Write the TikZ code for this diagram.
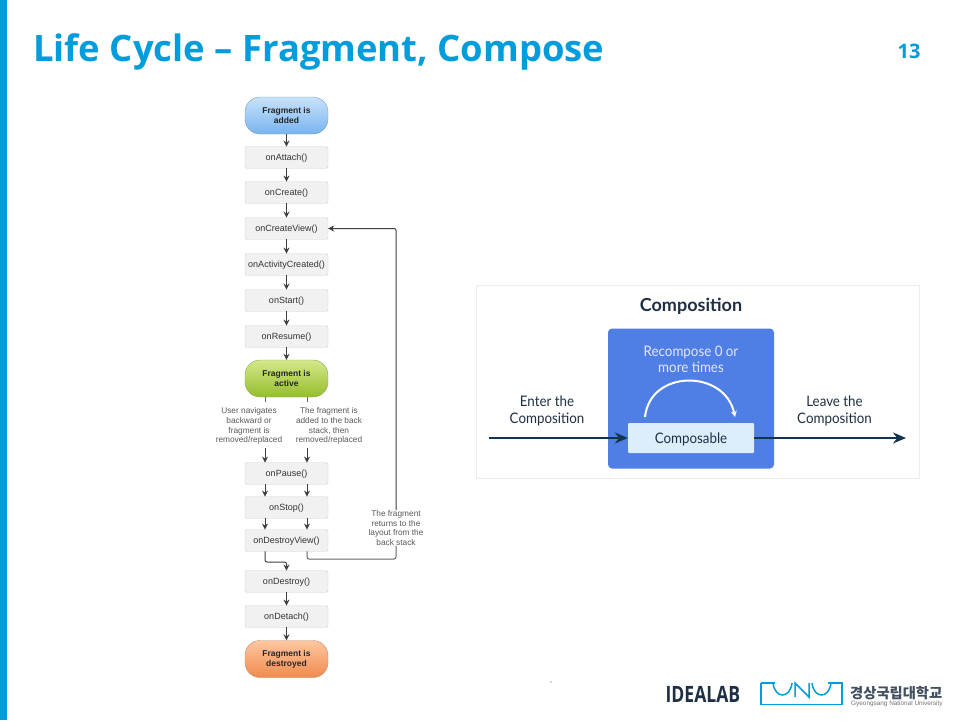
\documentclass[tikz,border=0pt]{standalone}
\usepackage{fontspec}
\setmainfont{Liberation Sans}
\newfontfamily\titlefont{Open Sans}
\newfontfamily\compfont{Lato}
\newfontfamily\krfont{Noto Sans CJK KR}
\usepackage{xcolor}
\usetikzlibrary{arrows.meta,positioning,calc,shapes.misc}
\definecolor{gnublue}{HTML}{009DDC}
\definecolor{boxline}{HTML}{CFCFCF}
\definecolor{boxfill}{HTML}{F1F1F1}
\definecolor{flowline}{HTML}{3F3F3F}
\definecolor{comptext}{HTML}{1F3044}
\definecolor{compblue}{HTML}{4F7FE5}
\definecolor{compbox}{HTML}{DCEDFC}
\definecolor{comparrow}{HTML}{12344F}
\definecolor{addedtop}{HTML}{C8E2FB}
\definecolor{addedbot}{HTML}{78B4EE}
\definecolor{addedline}{HTML}{7FA0C0}
\definecolor{activetop}{HTML}{D5E88A}
\definecolor{activebot}{HTML}{94BE2C}
\definecolor{activeline}{HTML}{8FA85F}
\definecolor{destroytop}{HTML}{FFC7A0}
\definecolor{destroybot}{HTML}{F08A4E}
\definecolor{destroyline}{HTML}{C08A6A}
\tikzset{
	callbox/.style={draw=boxline,fill=boxfill,rounded corners=1.5pt,minimum width=83pt,minimum height=21.5pt,inner sep=0pt,text height=6.6pt,text depth=0pt,font=\fontsize{9}{10}\selectfont,text=black!80},
	statebox/.style={rounded corners=15pt,minimum width=83pt,minimum height=37pt,inner sep=0pt,align=center,font=\fontsize{8.5}{10}\selectfont\bfseries,text=black!85},
	flowarrow/.style={draw=flowline,line width=1pt,-{Stealth[length=6pt,width=6pt]}},
	flowline/.style={draw=flowline!80,line width=1pt,rounded corners=2pt},
	flownote/.style={align=center,font=\fontsize{8.3}{9.8}\selectfont,text=black!65,inner sep=0pt},
	compnote/.style={align=center,font=\compfont\fontsize{14.5}{16.5}\selectfont,text=comptext,inner sep=0pt,xscale=0.92},
	comparrow/.style={draw=comparrow,line width=2pt,-{Stealth[length=13pt,width=11pt]}},
}
\begin{document}
\begin{tikzpicture}[x=1pt,y=-1pt]
	\useasboundingbox (0,0) rectangle (960,720);
	\fill[white] (0,0) rectangle (960,720);
	\fill[gnublue] (0,0) rectangle (7,720);
	% title
	\node[anchor=base west,inner sep=0pt,text=gnublue,font=\titlefont\bfseries\fontsize{36.4}{40}\selectfont] (title) at (33,61) {Life Cycle – Fragment, Compose};
	\node[text=gnublue,inner sep=0pt,font=\titlefont\bfseries\fontsize{20}{24}\selectfont] (pagenum) at (909,51) {13};
	% fragment flow
	\node[statebox,draw=addedline,top color=addedtop,bottom color=addedbot] (added) at (286.5,115.5) {Fragment is\\added};
	\node[callbox] (attach) at (286.5,157.5) {onAttach()};
	\node[callbox] (create) at (286.5,192.5) {onCreate()};
	\node[callbox] (createview) at (286.5,228.5) {onCreateView()};
	\node[callbox] (activitycreated) at (286.5,264.5) {onActivityCreated()};
	\node[callbox] (start) at (286.5,300.5) {onStart()};
	\node[callbox] (resume) at (286.5,336.5) {onResume()};
	\node[statebox,draw=activeline,top color=activetop,bottom color=activebot] (active) at (286.5,378.5) {Fragment is\\active};
	\node[flownote] (backward) at (249,426) {User navigates\\backward or\\fragment is\\removed/replaced};
	\node[flownote] (backstack) at (329,426) {The fragment is\\added to the back\\stack, then\\removed/replaced};
	\node[callbox] (pause) at (286.5,473.5) {onPause()};
	\node[callbox] (stop) at (286.5,507.5) {onStop()};
	\node[callbox] (destroyview) at (286.5,540.5) {onDestroyView()};
	\node[callbox] (destroy) at (286.5,581.5) {onDestroy()};
	\node[callbox] (detach) at (286.5,616.5) {onDetach()};
	\node[statebox,draw=destroyline,top color=destroytop,bottom color=destroybot] (destroyed) at (286.5,659) {Fragment is\\destroyed};
	\node[flownote] (returns) at (396,528) {The fragment\\returns to the\\layout from the\\back stack};
	\draw[flowarrow] (added) -- (attach);
	\draw[flowarrow] (attach) -- (create);
	\draw[flowarrow] (create) -- (createview);
	\draw[flowarrow] (createview) -- (activitycreated);
	\draw[flowarrow] (activitycreated) -- (start);
	\draw[flowarrow] (start) -- (resume);
	\draw[flowarrow] (resume) -- (active);
	\draw[flowarrow] (destroy) -- (detach);
	\draw[flowarrow] (detach) -- (destroyed);
	% two lanes
	\coordinate (leftstub) at (265,402);
	\coordinate (rightstub) at (307,402);
	\coordinate (lefttop) at (265,448);
	\coordinate (righttop) at (307,448);
	\draw[flowline] (active.south -| leftstub) -- (leftstub);
	\draw[flowline] (active.south -| rightstub) -- (rightstub);
	\draw[flowarrow] (lefttop) -- (pause.north -| lefttop);
	\draw[flowarrow] (righttop) -- (pause.north -| righttop);
	\draw[flowarrow] (pause.south -| lefttop) -- (stop.north -| lefttop);
	\draw[flowarrow] (pause.south -| righttop) -- (stop.north -| righttop);
	\draw[flowarrow] (stop.south -| lefttop) -- (destroyview.north -| lefttop);
	\draw[flowarrow] (stop.south -| righttop) -- (destroyview.north -| righttop);
	\coordinate (downbend) at (265,562);
	\draw[flowarrow,rounded corners=2pt] (destroyview.south -| lefttop) -- (downbend) -- (downbend -| destroy.north) -- (destroy.north);
	% back to the view
	\coordinate (backbend) at (307,559);
	\draw[flowline] (destroyview.south -| backbend) -- (backbend) -- (backbend -| returns.south) -- (returns.south);
	\draw[flowarrow,rounded corners=2pt] (returns.north) -- (returns.north |- createview.east) -- (createview.east);
	% composition
	\node[draw=black!7,fill=white,line width=0.8pt,minimum width=443pt,minimum height=193pt,inner sep=0pt] (compframe) at (697.5,381.5) {};
	\node[fill=compblue,rounded corners=4pt,minimum width=166pt,minimum height=140pt,inner sep=0pt] (compblock) at (691,398.5) {};
	\node[text=comptext,inner sep=0pt,font=\compfont\bfseries\fontsize{18}{20}\selectfont] (comptitle) at (691,306.5) {Composition};
	\node[compnote,text=white!90!blue] (recompose) at (691,359.5) {Recompose 0 or\\more times};
	\node[fill=compbox,rounded corners=1pt,minimum width=126pt,minimum height=30pt,inner sep=0pt,text=comptext,text height=10.5pt,text depth=0pt,font=\compfont\fontsize{14.5}{16}\selectfont] (composable) at (691,438) {\scalebox{0.92}[1]{Composable}};
	\node[compnote] (enter) at (547,411) {Enter the\\Composition};
	\node[compnote] (leave) at (834.5,411) {Leave the\\Composition};
	\coordinate (enterstart) at (489,438);
	\coordinate (leaveend) at (906,438);
	\coordinate (loopstart) at (645,417);
	\coordinate (loopend) at (735,417);
	\draw[comparrow] (enterstart) -- (composable.west);
	\draw[comparrow] (composable.east) -- (leaveend);
	\draw[white,line width=2pt,-{Stealth[length=6pt,width=6pt]}] (loopstart) .. controls (650,369) and (725,369) .. (loopend);
	% dot
	\fill[black!70] (551,682) circle (0.6);
	% logos
	\node[anchor=base west,inner sep=0pt,text=comptext,font=\titlefont\bfseries\fontsize{22.5}{24}\selectfont,xscale=0.78] (idealab) at (665.5,702.5) {IDEALAB};
	\draw[gnublue,line width=1.8pt] (761,683) -- (761,704.5) -- (842,704.5) -- (842,683) -- (828,683) (761,683) -- (775,683);
	\draw[gnublue,line width=1.5pt] (773,683) .. controls (775,699) and (790,699) .. (792,683);
	\draw[gnublue,line width=1.5pt] (795,697) -- (795,683) -- (809,697) -- (809,683);
	\draw[gnublue,line width=1.5pt] (812,683) .. controls (814,699) and (829,699) .. (831,683);
	\node[anchor=base west,inner sep=0pt,text=comptext!85,font=\krfont\bfseries\fontsize{14.3}{15}\selectfont] (krname) at (850,698) {경상국립대학교};
	\node[anchor=base west,inner sep=0pt,text=black!55,font=\fontsize{6.4}{7}\selectfont] (enname) at (851,705.5) {Gyeongsang National University};
\end{tikzpicture}
\end{document}
